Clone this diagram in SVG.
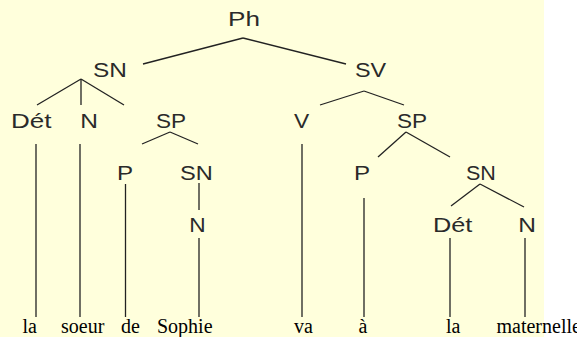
<svg xmlns="http://www.w3.org/2000/svg" width="577" height="337" viewBox="0 0 577 337">
<style>
.lbl{font-family:"Liberation Sans",Arial,sans-serif;font-size:20px;fill:#2a2a2a}
.wd{font-family:"Liberation Serif","Times New Roman",serif;font-size:20px;fill:#000}
.e line{stroke:#222;stroke-width:1.3;fill:none}
</style>
<rect x="0" y="0" width="577" height="337" fill="#ffffff"/>
<rect x="0" y="0" width="544" height="337" fill="#ffffdc"/>
<g id="connectors" class="e">
<line x1="143" y1="64" x2="243" y2="38"/>
<line x1="243" y1="38" x2="346" y2="64"/>
<line x1="81" y1="79" x2="37" y2="105"/>
<line x1="81" y1="79" x2="81" y2="105"/>
<line x1="81" y1="79" x2="124" y2="105"/>
<line x1="36" y1="144" x2="36" y2="317"/>
<line x1="80" y1="144" x2="80" y2="317"/>
<line x1="170" y1="132" x2="142" y2="144"/>
<line x1="170" y1="132" x2="198" y2="144"/>
<line x1="125.5" y1="184" x2="125.5" y2="317"/>
<line x1="199" y1="183" x2="199" y2="210"/>
<line x1="199" y1="238" x2="199" y2="317"/>
<line x1="364" y1="91" x2="320" y2="105"/>
<line x1="364" y1="91" x2="404" y2="105"/>
<line x1="302" y1="144" x2="302" y2="317"/>
<line x1="406" y1="132" x2="378" y2="157"/>
<line x1="406" y1="132" x2="450" y2="157"/>
<line x1="364" y1="198" x2="364" y2="317"/>
<line x1="480" y1="184" x2="451" y2="206"/>
<line x1="480" y1="184" x2="524" y2="207"/>
<line x1="450" y1="238" x2="450" y2="317"/>
<line x1="525" y1="238" x2="525" y2="317"/>
</g>
<g id="n-Ph"><text class="lbl" x="228" y="26" textLength="31.9" lengthAdjust="spacingAndGlyphs">Ph</text></g>
<g id="n-SN1"><text class="lbl" x="92.9" y="77" textLength="33.9" lengthAdjust="spacingAndGlyphs">SN</text></g>
<g id="n-SV"><text class="lbl" x="355" y="77" textLength="31.2" lengthAdjust="spacingAndGlyphs">SV</text></g>
<g id="n-Det1"><text class="lbl" x="10.9" y="128" textLength="40.5" lengthAdjust="spacingAndGlyphs">Dét</text></g>
<g id="n-N1"><text class="lbl" x="80.2" y="128" textLength="17.7" lengthAdjust="spacingAndGlyphs">N</text></g>
<g id="n-SP1"><text class="lbl" x="156" y="128" textLength="30.1" lengthAdjust="spacingAndGlyphs">SP</text></g>
<g id="n-V"><text class="lbl" x="294" y="128" textLength="15.2" lengthAdjust="spacingAndGlyphs">V</text></g>
<g id="n-SP2"><text class="lbl" x="397" y="128" textLength="30.1" lengthAdjust="spacingAndGlyphs">SP</text></g>
<g id="n-P1"><text class="lbl" x="117.1" y="180" textLength="16.1" lengthAdjust="spacingAndGlyphs">P</text></g>
<g id="n-SN2"><text class="lbl" x="179.9" y="180" textLength="32.8" lengthAdjust="spacingAndGlyphs">SN</text></g>
<g id="n-P2"><text class="lbl" x="354.1" y="180" textLength="16.1" lengthAdjust="spacingAndGlyphs">P</text></g>
<g id="n-SN3"><text class="lbl" x="466" y="180" textLength="29.9" lengthAdjust="spacingAndGlyphs">SN</text></g>
<g id="n-N2"><text class="lbl" x="189.3" y="232" textLength="16.4" lengthAdjust="spacingAndGlyphs">N</text></g>
<g id="n-Det2"><text class="lbl" x="433" y="232" textLength="39.4" lengthAdjust="spacingAndGlyphs">Dét</text></g>
<g id="n-N3"><text class="lbl" x="518.2" y="232" textLength="17.7" lengthAdjust="spacingAndGlyphs">N</text></g>
<g id="w-la1"><text class="wd" x="22.5" y="333">la</text></g>
<g id="w-soeur"><text class="wd" x="61" y="333">soeur</text></g>
<g id="w-de"><text class="wd" x="121" y="333">de</text></g>
<g id="w-Sophie"><text class="wd" x="157" y="333">Sophie</text></g>
<g id="w-va"><text class="wd" x="294" y="333">va</text></g>
<g id="w-a"><text class="wd" x="358.5" y="333">à</text></g>
<g id="w-la2"><text class="wd" x="446" y="333">la</text></g>
<g id="w-maternelle"><text class="wd" x="496.5" y="333">maternelle</text></g>
</svg>
